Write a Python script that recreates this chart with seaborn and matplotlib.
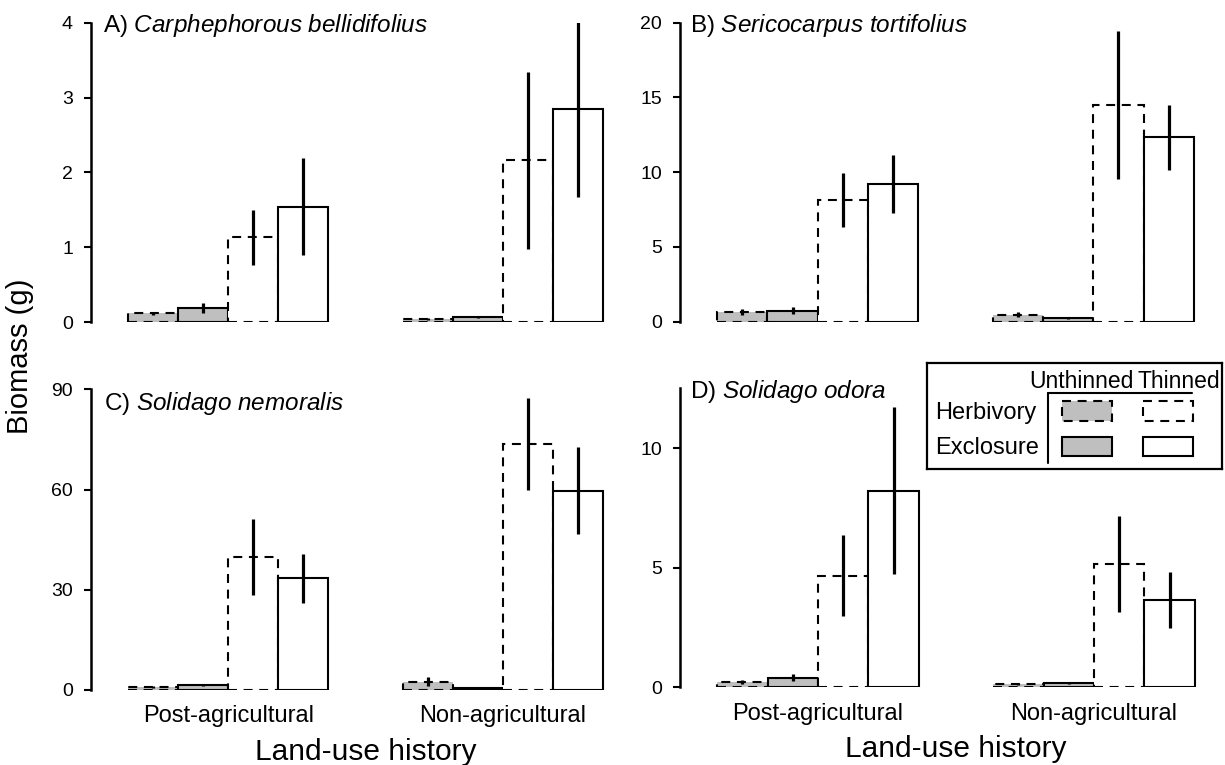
import matplotlib
matplotlib.use("Agg")
import matplotlib.pyplot as plt
from matplotlib.patches import Rectangle
import numpy as np
import pandas as pd
import seaborn as sns

# ---- data: mean biomass (g) and standard error per treatment ----
histories = ["Post-agricultural", "Non-agricultural"]
treatments = ["Herbivory Unthinned", "Exclosure Unthinned",
              "Herbivory Thinned", "Exclosure Thinned"]

species = ["Carphephorous bellidifolius", "Sericocarpus tortifolius",
           "Solidago nemoralis", "Solidago odora"]
panel_letters = ["A)", "B)", "C)", "D)"]

# rows: history (post, non); columns: treatments in order above
carph_mean = [[0.12, 0.19, 1.13, 1.54], [0.04, 0.07, 2.16, 2.84]]
carph_se = [[0.02, 0.07, 0.37, 0.65], [0.01, 0.01, 1.18, 1.17]]

seric_mean = [[0.65, 0.74, 8.14, 9.19], [0.47, 0.22, 14.5, 12.33]]
seric_se = [[0.22, 0.25, 1.8, 1.95], [0.17, 0.05, 4.95, 2.17]]

nemor_mean = [[0.8, 1.5, 39.9, 33.4], [2.5, 0.5, 73.6, 59.7]]
nemor_se = [[0.3, 0.4, 11.4, 7.4], [1.4, 0.3, 13.7, 13.1]]

odora_mean = [[0.23, 0.40, 4.67, 8.22], [0.14, 0.17, 5.15, 3.66]]
odora_se = [[0.08, 0.15, 1.7, 3.5], [0.03, 0.03, 2.0, 1.17]]

y_limits = [4, 20, 90, 12.5]
y_ticks = [[0, 1, 2, 3, 4], [0, 5, 10, 15, 20], [0, 30, 60, 90], [0, 5, 10]]

GRAY = "#bfbfbf"
DASH = (0, (4.3, 3.2))

sns.set_style("white")
plt.rcParams["font.family"] = ["Liberation Sans", "DejaVu Sans"]
plt.rcParams["mathtext.fontset"] = "custom"
plt.rcParams["mathtext.rm"] = "Liberation Sans"
plt.rcParams["mathtext.it"] = "Liberation Sans:italic"
for key in ["text.color", "axes.labelcolor", "xtick.color", "ytick.color",
            "axes.edgecolor"]:
    plt.rcParams[key] = "black"

W, H = 1225, 765
fig = plt.figure(figsize=(W / 100, H / 100), dpi=100)


def px_axes(left, top, bottom, width):
    return fig.add_axes([left / W, 1 - bottom / H, width / W, (bottom - top) / H])


# (left, top, bottom, width) in pixels
boxes = [(91, 22.7, 322, 549), (680, 22.7, 321.7, 551),
         (91, 389.3, 690, 549), (680, 388.3, 687.3, 552)]
means = [carph_mean, seric_mean, nemor_mean, odora_mean]
ses = [carph_se, seric_se, nemor_se, odora_se]
title_pos = [(0.021, 0.992), (0.019, 0.992), (0.023, 0.953), (0.018, 0.989)]

for k in range(4):
    ax = px_axes(*boxes[k])
    rows = []
    for i, h in enumerate(histories):
        for j, t in enumerate(treatments):
            rows.append({"history": h, "treatment": t,
                         "biomass": means[k][i][j], "se": ses[k][i][j]})
    df = pd.DataFrame(rows)
    sns.barplot(data=df, x="history", y="biomass", hue="treatment",
                order=histories, hue_order=treatments,
                palette=[GRAY, GRAY, "white", "white"],
                width=0.73, errorbar=None, legend=False, ax=ax,
                edgecolor="black", linewidth=1.5, saturation=1)
    xs, ys, es = [], [], []
    for j, cont in enumerate(ax.containers):
        for i, bar in enumerate(cont):
            if j % 2 == 0:
                bar.set_linestyle(DASH)
            xs.append(bar.get_x() + bar.get_width() / 2)
            ys.append(means[k][i][j])
            es.append(ses[k][i][j])
    ax.errorbar(xs, ys, yerr=es, fmt="none", ecolor="black",
                elinewidth=2.3, capsize=0, zorder=5)

    ax.set_xlim(-0.5, 1.5)
    ax.set_ylim(0, y_limits[k])
    ax.set_yticks(y_ticks[k])
    for s in ["top", "right", "bottom"]:
        ax.spines[s].set_visible(False)
    ax.spines["left"].set_linewidth(1.8)
    ax.tick_params(axis="y", direction="out", length=5, width=1.5,
                   labelsize=14, pad=8, left=True)
    ax.tick_params(axis="x", length=0, labelsize=17, pad=11)
    ax.set_ylabel("")
    ax.set_xticks([0, 1])
    if k < 2:
        ax.set_xticklabels(["", ""])
        ax.set_xlabel("")
    else:
        ax.set_xticklabels(histories)
        ax.set_xlabel("Land-use history", fontsize=21.5)
        ax.xaxis.set_label_coords(0.5, -0.158)
    name = species[k].replace(" ", r"\ ")
    ax.text(title_pos[k][0], title_pos[k][1],
            panel_letters[k] + r" $\it{" + name + "}$",
            transform=ax.transAxes, ha="left", va="center", fontsize=17.5)

fig.text(20 / W, 1 - 356 / H, "Biomass (g)", rotation=90,
         ha="center", va="center", fontsize=21)

# ---- legend drawn as its own small panel ----
lw_, lh_ = 295, 106.6
lax = fig.add_axes([926.7 / W, 1 - 469.3 / H, lw_ / W, lh_ / H])
lax.set_xlim(0, lw_)
lax.set_ylim(lh_, 0)
lax.set_xticks([])
lax.set_yticks([])
for s in lax.spines.values():
    s.set_visible(True)
    s.set_linewidth(1.6)
    s.set_color("black")
lax.text(207, 19, "Unthinned", ha="right", va="center", fontsize=16.5)
lax.text(293, 19, "Thinned", ha="right", va="center", fontsize=16.5)
lax.text(8, 50, "Herbivory", ha="left", va="center", fontsize=17)
lax.text(8, 85, "Exclosure", ha="left", va="center", fontsize=17)
lax.plot([121, 121], [30.3, 100], color="black", lw=1.5)
lax.plot([121, 265], [30.3, 30.3], color="black", lw=1.5)
for xl, fc in [(135.3, GRAY), (216.3, "white")]:
    lax.add_patch(Rectangle((xl, 38), 50, 20, facecolor=fc,
                            edgecolor="black", lw=1.5, linestyle=DASH))
    lax.add_patch(Rectangle((xl, 74.3), 50, 19, facecolor=fc,
                            edgecolor="black", lw=1.5))

fig.savefig("out.png", dpi=100)
